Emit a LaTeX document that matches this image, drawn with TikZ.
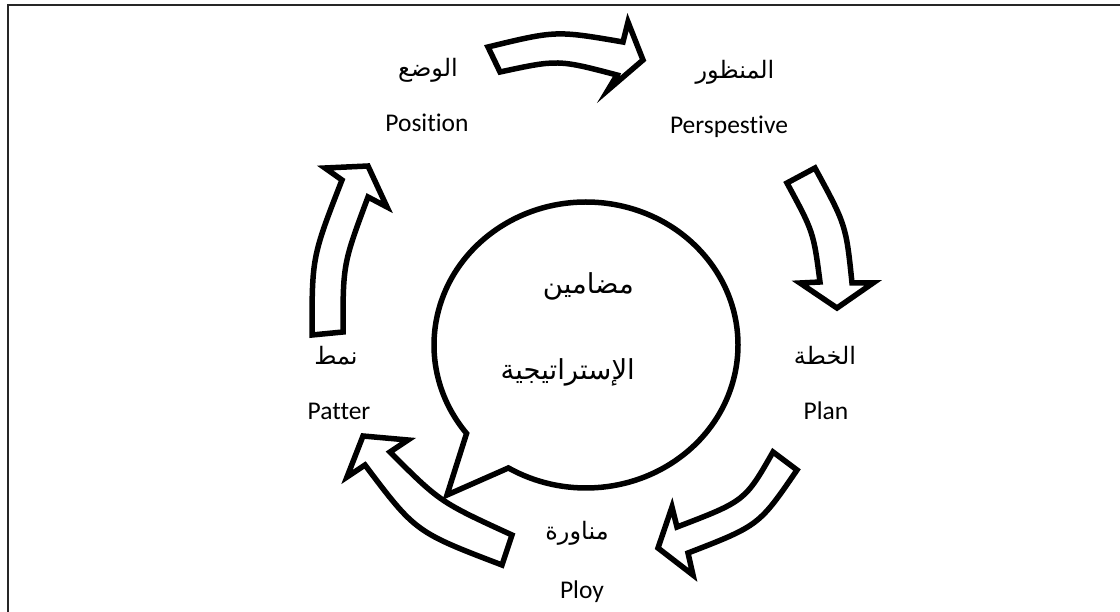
\documentclass[tikz,border=0pt]{standalone}
\usepackage{fontspec}
\setmainfont{Carlito}[Ligatures={NoCommon}]
\newfontfamily\arabicfont[Script=Arabic]{DejaVu Sans}
\TeXXeTstate=1
\begin{document}
\begin{tikzpicture}[x=1pt,y=-1pt,
  cyclearrow/.style={draw=black, line width=5.5pt, fill=white, line join=miter},
  bubble/.style={draw=black, line width=5.5pt, fill=white},
  frameline/.style={draw=black!85, line width=2.2pt},
  latinlabel/.style={font=\fontsize{25.5}{30}\selectfont, inner sep=0pt},
  arlabel/.style={font=\arabicfont\fontsize{24}{30}\selectfont, inner sep=0pt},
  bigar/.style={font=\arabicfont\fontsize{27.5}{32}\selectfont, inner sep=0pt, anchor=east}]
\useasboundingbox (0,0) rectangle (1120,612);
% page frame (only its top and left sides fall inside the page)
\draw[frameline] (8,612) -- (8,5) -- (1120,5);

% speech bubble in the middle
\coordinate (bc) at (586,345);
\coordinate (tailtip) at (447,495);
\draw[bubble] (bc) ++(141.8:152 and 143)
  arc[start angle=141.8, end angle=480.7, x radius=152, y radius=143]
  -- (tailtip) -- cycle;
\node[bigar] (core1) at (634,286) {\beginR مضامين\endR};
\node[bigar] (core2) at (635,372) {\beginR الإستراتيجية\endR};

% curved block arrows of the cycle
% Position -> Perspective
\draw[cyclearrow] (488,47) .. controls (556,30.5) .. (623,42)
  -- (628,22) -- (643,60) -- (608,90) -- (617,75)
  .. controls (558,59.5) .. (500,72) -- cycle;
% Perspective -> Plan
\draw[cyclearrow] (815,168) .. controls (846,225) .. (852,283)
  -- (873,283) -- (837,308) -- (800,283) -- (820,282)
  .. controls (813.5,232) .. (787,183) -- cycle;
% Plan -> Ploy
\draw[cyclearrow] (797,470) .. controls (759,525.5) .. (688,553)
  -- (693,575) -- (658,548) -- (672,507) -- (677,527)
  .. controls (745,501) .. (773,452) -- cycle;
% Ploy -> Patter
\draw[cyclearrow] (512,535) .. controls (440,502) .. (390,452)
  -- (408,440) -- (363,436) -- (347,477) -- (365,465)
  .. controls (415.5,532) .. (502,565) -- cycle;
% Patter -> Position
\draw[cyclearrow] (312,335) .. controls (312,257) .. (342,180)
  -- (325,168) -- (368,166) -- (387,207) -- (368,197)
  .. controls (343,264) .. (343,332) -- cycle;

% labels
\node[arlabel] (posAr) at (428,70) {\beginR الوضع\endR};
\node[latinlabel] (posEn) at (427,123) {Position};
\node[arlabel] (perAr) at (735,72) {\beginR المنظور\endR};
\node[latinlabel] (perEn) at (729,127) {Perspestive};
\node[arlabel] (planAr) at (825,355) {\beginR الخطة\endR};
\node[latinlabel] (planEn) at (826,411) {Plan};
\node[arlabel] (ployAr) at (577,533) {\beginR مناورة\endR};
\node[latinlabel] (ployEn) at (582,592) {Ploy};
\node[arlabel] (patAr) at (336,356) {\beginR نمط\endR};
\node[latinlabel] (patEn) at (339,411) {Patter};
\end{tikzpicture}
\end{document}
